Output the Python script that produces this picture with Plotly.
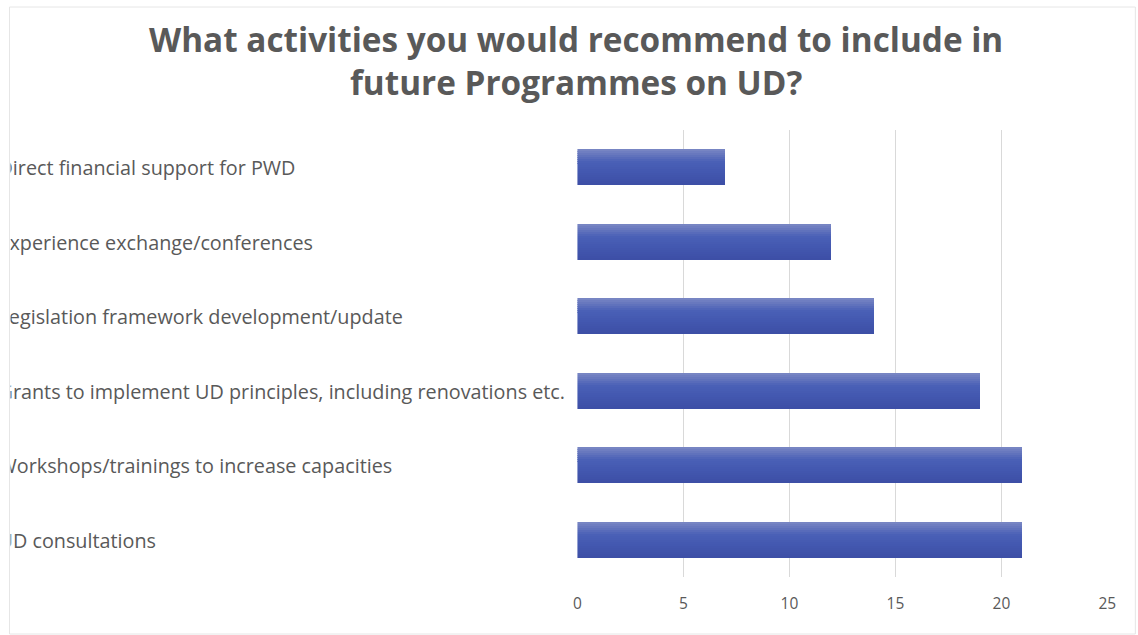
import plotly.graph_objects as go

# Survey answers, listed top to bottom as they appear on the chart
activities = [
    "Direct financial support for PWD",
    "Experience exchange/conferences",
    "Legislation framework development/update",
    "Grants to implement UD principles, including renovations etc.",
    "Workshops/trainings to increase capacities",
    "UD consultations",
]
counts = [7, 12, 14, 19, 21, 21]
x_ticks = [0, 5, 10, 15, 20, 25]

TITLE = "What activities you would recommend to include in<br>future Programmes on UD?"

W, H = 1138, 635
TEXT = "#595959"
GRID = "#d9d9d9"

# horizontal placement helper: the page is shown slightly narrowed, so
# column positions are stretched back to land where intended
X_SCALE, X_SHIFT = 0.9887, 3.5


def px_x(x):
    return ((x - X_SHIFT) / X_SCALE) / W


def px_y(y):
    """Pixel row measured from the top -> paper fraction."""
    return 1 - y / H


def blend(c1, c2, t):
    a = [int(c1[i:i + 2], 16) for i in (1, 3, 5)]
    b = [int(c2[i:i + 2], 16) for i in (1, 3, 5)]
    return "#%02x%02x%02x" % tuple(round(a[k] + (b[k] - a[k]) * t) for k in range(3))


# vertical shading of a bar: light top edge, saturated middle, slightly darker base
stops = [(0.0, "#7b88c4"), (0.35, "#4a60b6"), (0.6, "#4459b1"), (1.0, "#3c4ea5")]
n_strips = 18
bar_shades = []
for k in range(n_strips):
    t = (k + 0.5) / n_strips
    for (p0, c0), (p1, c1) in zip(stops[:-1], stops[1:]):
        if p0 <= t <= p1:
            bar_shades.append(blend(c0, c1, (t - p0) / (p1 - p0)))
            break
bar_width = 0.48

fig = go.Figure()

for i, shade in enumerate(bar_shades):
    fig.add_trace(go.Bar(
        y=activities,
        x=counts,
        orientation="h",
        width=bar_width / n_strips + 0.003,
        offset=-bar_width / 2 + i * bar_width / n_strips,
        marker=dict(color=shade, line=dict(width=0)),
        hoverinfo="skip",
        showlegend=False,
        xaxis="x",
        yaxis="y",
    ))

# category names, left aligned and clipped by their own panel
fig.add_trace(go.Scatter(
    y=activities,
    x=[-12] * len(activities),
    mode="text",
    text=activities,
    textposition="middle right",
    textfont=dict(family="Open Sans", size=19.8, color=TEXT),
    cliponaxis=True,
    hoverinfo="skip",
    showlegend=False,
    xaxis="x2",
    yaxis="y2",
))

cat_range = [len(activities) - 0.5, -0.5]

fig.update_layout(
    width=W,
    height=H,
    autosize=False,
    margin=dict(l=0, r=0, t=0, b=0),
    paper_bgcolor="white",
    plot_bgcolor="rgba(0,0,0,0)",
    barmode="overlay",
    bargap=0,
    xaxis=dict(
        domain=[px_x(577), px_x(1107)],
        range=[0, 25],
        tickvals=x_ticks,
        ticktext=[str(v) for v in x_ticks],
        showgrid=True,
        gridcolor=GRID,
        gridwidth=1,
        zeroline=False,
        showline=False,
        ticks="",
        ticklabelstandoff=15,
        tickfont=dict(family="Open Sans", size=15.5, color=TEXT),
        fixedrange=True,
        anchor="y",
    ),
    xaxis2=dict(
        domain=[px_x(10), px_x(575)],
        range=[0, 565],
        visible=False,
        showgrid=False,
        zeroline=False,
        anchor="y2",
    ),
    yaxis=dict(
        domain=[px_y(577), px_y(130)],
        type="category",
        categoryorder="array",
        categoryarray=activities,
        range=cat_range,
        showticklabels=False,
        showgrid=False,
        zeroline=False,
        showline=False,
        ticks="",
        anchor="x",
    ),
    yaxis2=dict(
        domain=[px_y(580), px_y(133)],
        type="category",
        categoryorder="array",
        categoryarray=activities,
        range=cat_range,
        visible=False,
        showgrid=False,
        zeroline=False,
        anchor="x2",
    ),
    annotations=[dict(
        text=TITLE,
        x=px_x(576),
        y=px_y(14),
        xref="paper",
        yref="paper",
        xanchor="center",
        yanchor="top",
        showarrow=False,
        align="center",
        font=dict(family="Open Sans", size=33.3, color=TEXT, weight="bold"),
    )],
    shapes=[dict(
        type="rect",
        xref="paper",
        yref="paper",
        x0=px_x(9),
        x1=px_x(1135),
        y0=px_y(634),
        y1=px_y(7),
        line=dict(color="#e6e6e6", width=1),
        fillcolor="rgba(0,0,0,0)",
        layer="below",
    )],
)

fig.write_html("out.html", config={"responsive": False})
